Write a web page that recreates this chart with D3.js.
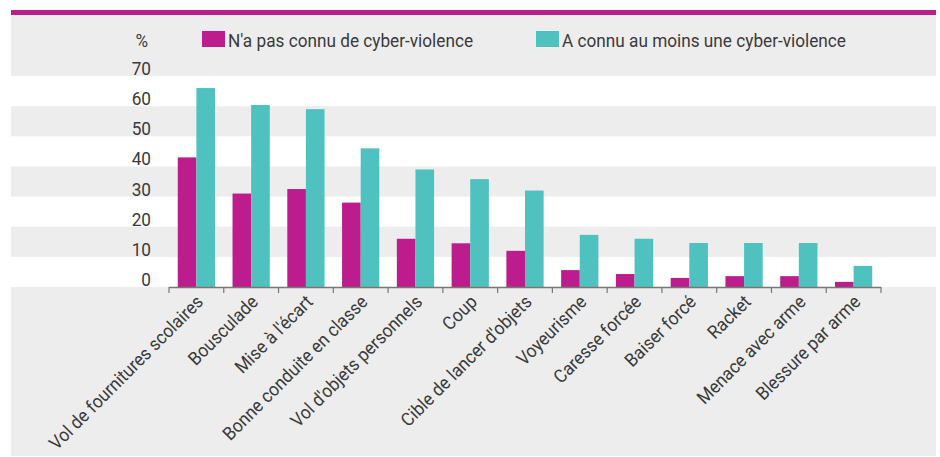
<!DOCTYPE html>
<html>
<head>
<meta charset="utf-8">
<script src="https://cdn.jsdelivr.net/npm/d3@7"></script>
<style>
  body { margin: 0; background: #fff; }
  text { font-family: "Roboto", "Liberation Sans", sans-serif; fill: #3a3a3a; }
</style>
</head>
<body>
<div id="chart"></div>
<script>
var categories = ["Vol de fournitures scolaires", "Bousculade", "Mise à l'écart",
    "Bonne conduite en classe", "Vol d'objets personnels", "Coup",
    "Cible de lancer d'objets", "Voyeurisme", "Caresse forcée", "Baiser forcé",
    "Racket", "Menace avec arme", "Blessure par arme"];
var seriesNames = ["N'a pas connu de cyber-violence", "A connu au moins une cyber-violence"];
var sansCyber = [43, 31, 32.5, 28, 16, 14.5, 12, 5.6, 4.3, 3, 3.6, 3.6, 1.7];
var avecCyber = [66, 60.4, 59, 46, 39, 35.8, 32, 17.3, 16, 14.6, 14.6, 14.6, 7];
var yTicks = [0, 10, 20, 30, 40, 50, 60, 70];

var colors = ["#bc1c8c", "#4fc2bf"];
var W = 940, H = 457;
var narrow = 0.93;   // squeeze to mimic the condensed face

var svg = d3.select("#chart").append("svg")
    .attr("width", W)
    .attr("height", H);

// grey panel + magenta rule
svg.append("rect")
    .attr("x", 11).attr("y", 15)
    .attr("width", 925).attr("height", 441)
    .attr("fill", "#ededed");
svg.append("rect")
    .attr("x", 11).attr("y", 10)
    .attr("width", 925).attr("height", 5)
    .attr("fill", colors[0]);

var x = d3.scaleBand()
    .domain(categories)
    .range([169, 881])
    .paddingInner(0.32)
    .paddingOuter(0.16);

var x1 = d3.scaleBand()
    .domain([0, 1])
    .range([0, x.bandwidth()]);

var y = d3.scaleLinear()
    .domain([0, 70])
    .range([287, 76]);

// white bands for 0-10, 20-30, 40-50, 60-70
svg.selectAll("rect.band")
    .data([0, 20, 40, 60])
    .enter()
    .append("rect")
    .attr("class", "band")
    .attr("x", 11)
    .attr("y", function(d) { return y(d + 10); })
    .attr("width", 925)
    .attr("height", function(d) { return y(d) - y(d + 10); })
    .attr("fill", "#ffffff");

// y labels
svg.selectAll("text.ytick")
    .data(yTicks)
    .enter()
    .append("text")
    .attr("class", "ytick")
    .attr("text-anchor", "end")
    .attr("transform", function(d) {
        return "translate(151," + (y(d) - 1) + ") scale(" + narrow + ",1)";
    })
    .style("font-size", "18.5px")
    .text(function(d) { return d; });

svg.append("text")
    .attr("text-anchor", "end")
    .attr("transform", "translate(148,47) scale(" + narrow + ",1)")
    .style("font-size", "18.5px")
    .text("%");

// bars
var rows = categories.map(function(c, i) { return [sansCyber[i], avecCyber[i]]; });

var groups = svg.selectAll("g.grp")
    .data(rows)
    .enter()
    .append("g")
    .attr("class", "grp")
    .attr("transform", function(d, i) { return "translate(" + x(categories[i]) + ",0)"; });

groups.selectAll("rect")
    .data(function(d) { return d; })
    .enter()
    .append("rect")
    .attr("x", function(d, j) { return x1(j); })
    .attr("y", function(d) { return y(d); })
    .attr("width", x1.bandwidth())
    .attr("height", function(d) { return y(0) - y(d); })
    .attr("fill", function(d, j) { return colors[j]; });

// x axis line + boundary ticks
var step = x.step();
var x0 = x.range()[0];
svg.append("line")
    .attr("x1", x0).attr("x2", x.range()[1])
    .attr("y1", 287.5).attr("y2", 287.5)
    .attr("stroke", "#777").attr("stroke-width", 1.5);

svg.selectAll("line.tk")
    .data(d3.range(categories.length + 1))
    .enter()
    .append("line")
    .attr("class", "tk")
    .attr("x1", function(i) { return x0 + i * step; })
    .attr("x2", function(i) { return x0 + i * step; })
    .attr("y1", 287).attr("y2", 293)
    .attr("stroke", "#777").attr("stroke-width", 1.2);

// x labels
svg.selectAll("text.xl")
    .data(categories)
    .enter()
    .append("text")
    .attr("class", "xl")
    .attr("text-anchor", "end")
    .attr("transform", function(d) {
        return "translate(" + (x(d) + x.bandwidth() / 2 + 8) + ",303) rotate(-45) scale(" + narrow + ",1)";
    })
    .style("font-size", "18.5px")
    .text(function(d) { return d; });

// legend
var legX = [202, 536];
seriesNames.forEach(function(name, i) {
    svg.append("rect")
        .attr("x", legX[i]).attr("y", 31)
        .attr("width", 23).attr("height", 16)
        .attr("fill", colors[i]);
    svg.append("text")
        .attr("transform", "translate(" + (legX[i] + 26) + ",47) scale(" + narrow + ",1)")
        .style("font-size", "18.5px")
        .text(name);
});
</script>
</body>
</html>
